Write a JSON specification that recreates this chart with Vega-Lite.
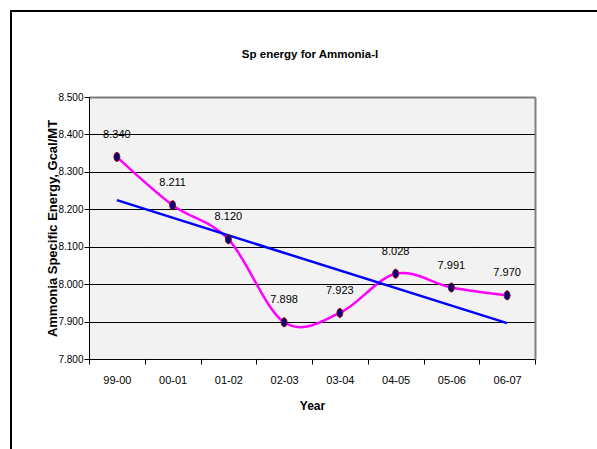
{
  "$schema": "https://vega.github.io/schema/vega-lite/v6.json",
  "width": 586,
  "height": 438,
  "autosize": {"type": "none"},
  "padding": {"left": 11, "top": 11, "right": 0, "bottom": 0},
  "background": "white",
  "title": {
    "text": "Sp energy for Ammonia-I",
    "frame": "group",
    "anchor": "middle",
    "offset": -55,
    "dx": 6,
    "baseline": "middle",
    "font": "Liberation Sans",
    "fontSize": 11.5,
    "fontWeight": "bold",
    "color": "black"
  },
  "config": {
    "view": {"stroke": "black", "strokeWidth": 2, "strokeDash": [586, 1024, 438], "fill": "white"}
  },
  "datasets": {
    "d": [
      {"i": 0, "year": "99-00", "v": 8.340},
      {"i": 1, "year": "00-01", "v": 8.211},
      {"i": 2, "year": "01-02", "v": 8.120},
      {"i": 3, "year": "02-03", "v": 7.898},
      {"i": 4, "year": "03-04", "v": 7.923},
      {"i": 5, "year": "04-05", "v": 8.028},
      {"i": 6, "year": "05-06", "v": 7.991},
      {"i": 7, "year": "06-07", "v": 7.970}
    ]
  },
  "data": {"name": "d"},
  "resolve": {"axis": {"x": "independent", "y": "independent"}},
  "layer": [
    {
      "mark": {"type": "rect", "fill": "black", "fillOpacity": 0.05, "strokeWidth": 0},
      "encoding": {
        "x": {"field": "year", "type": "ordinal",
          "scale": {"type": "band", "domain": ["99-00","00-01","01-02","02-03","03-04","04-05","05-06","06-07"], "range": [78, 524], "paddingInner": 0, "paddingOuter": 0},
          "axis": null},
        "y": {"datum": 7.8, "type": "quantitative",
          "scale": {"domain": [7.8, 8.5], "range": [348, 86], "nice": false, "zero": false},
          "axis": null},
        "y2": {"datum": 8.5}
      }
    },
    {
      "mark": {"type": "line", "interpolate": "cardinal", "color": "#FF00FF", "strokeWidth": 2.5},
      "encoding": {
        "x": {"field": "year", "type": "ordinal", "bandPosition": 0.5,
          "scale": {"type": "band", "domain": ["99-00","00-01","01-02","02-03","03-04","04-05","05-06","06-07"], "range": [78, 524], "paddingInner": 0, "paddingOuter": 0},
          "axis": {"orient": "bottom", "offset": -90, "tickBand": "extent", "grid": false,
            "domain": true, "domainColor": "black", "domainWidth": 1,
            "ticks": true, "tickColor": "black", "tickSize": 5, "tickWidth": 1,
            "labelAngle": 0, "labelFont": "Liberation Sans", "labelFontSize": 11, "labelColor": "black", "labelPadding": 10,
            "title": "Year", "titleFont": "Liberation Sans", "titleFontSize": 12, "titleFontWeight": "bold", "titleColor": "black", "titlePadding": 15}},
        "y": {"field": "v", "type": "quantitative",
          "scale": {"domain": [7.8, 8.5], "range": [348, 86], "nice": false, "zero": false},
          "axis": {"orient": "left", "offset": -78, "values": [7.8, 7.9, 8.0, 8.1, 8.2, 8.3, 8.4, 8.5], "format": ".3f",
            "grid": true, "gridColor": "black", "gridWidth": 1, "gridOpacity": 1,
            "domain": true, "domainColor": "black", "domainWidth": 1,
            "ticks": true, "tickColor": "black", "tickSize": 5, "tickWidth": 1,
            "labelFont": "Liberation Sans", "labelFontSize": 10, "labelColor": "black", "labelPadding": 1,
            "title": "Ammonia Specific Energy, Gcal/MT", "titleFont": "Liberation Sans", "titleFontSize": 13, "titleFontWeight": "bold", "titleColor": "black", "titlePadding": 1, "titleBaseline": "alphabetic"}}
      }
    },
    {
      "transform": [
        {"regression": "v", "on": "i"},
        {"lookup": "i", "from": {"data": {"name": "d"}, "key": "i", "fields": ["year"]}}
      ],
      "mark": {"type": "line", "color": "#0000FF", "strokeWidth": 2.5},
      "encoding": {
        "x": {"field": "year", "type": "ordinal", "bandPosition": 0.5,
          "scale": {"type": "band", "domain": ["99-00","00-01","01-02","02-03","03-04","04-05","05-06","06-07"], "range": [78, 524], "paddingInner": 0, "paddingOuter": 0},
          "axis": null},
        "y": {"field": "v", "type": "quantitative",
          "scale": {"domain": [7.8, 8.5], "range": [348, 86], "nice": false, "zero": false},
          "axis": null}
      }
    },
    {
      "mark": {"type": "point", "filled": true, "shape": "M0,-1A0.65,1 0 1,1 0,1A0.65,1 0 1,1 0,-1Z", "size": 81, "fill": "#000080", "stroke": "#990000", "strokeWidth": 1, "opacity": 1},
      "encoding": {
        "x": {"field": "year", "type": "ordinal", "bandPosition": 0.5,
          "scale": {"type": "band", "domain": ["99-00","00-01","01-02","02-03","03-04","04-05","05-06","06-07"], "range": [78, 524], "paddingInner": 0, "paddingOuter": 0},
          "axis": {"orient": "top", "offset": -86, "domain": true, "domainColor": "#808080", "domainWidth": 2, "ticks": false, "labels": false, "grid": false, "title": null}},
        "y": {"field": "v", "type": "quantitative",
          "scale": {"domain": [7.8, 8.5], "range": [348, 86], "nice": false, "zero": false},
          "axis": {"orient": "right", "offset": -62, "domain": true, "domainColor": "#808080", "domainWidth": 2, "ticks": false, "labels": false, "grid": false, "title": null}}
      }
    },
    {
      "mark": {"type": "text", "dy": -22, "baseline": "middle", "align": "center", "font": "Liberation Sans", "fontSize": 11, "color": "black"},
      "encoding": {
        "x": {"field": "year", "type": "ordinal", "bandPosition": 0.5,
          "scale": {"type": "band", "domain": ["99-00","00-01","01-02","02-03","03-04","04-05","05-06","06-07"], "range": [78, 524], "paddingInner": 0, "paddingOuter": 0},
          "axis": null},
        "y": {"field": "v", "type": "quantitative",
          "scale": {"domain": [7.8, 8.5], "range": [348, 86], "nice": false, "zero": false},
          "axis": null},
        "text": {"field": "v", "type": "quantitative", "format": ".3f"}
      }
    }
  ]
}
